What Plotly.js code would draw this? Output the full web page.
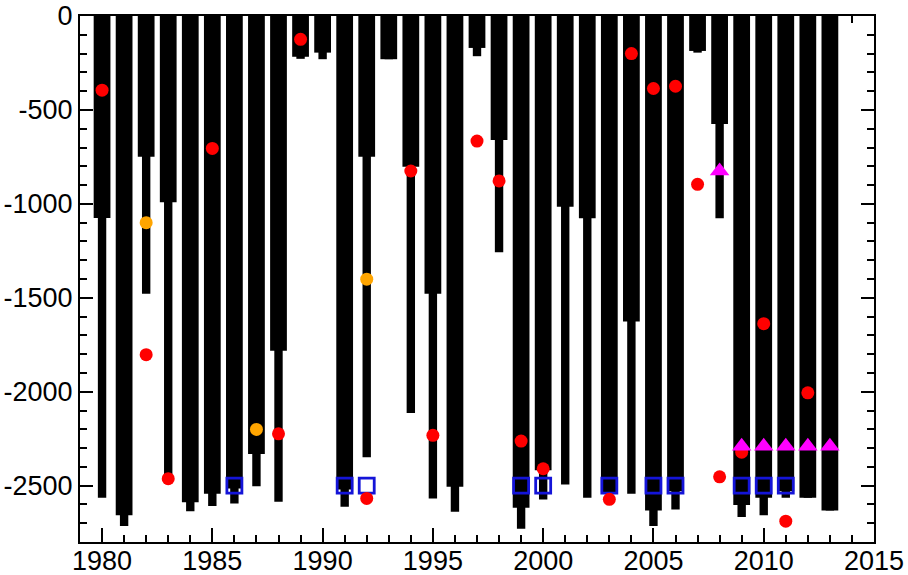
<!DOCTYPE html>
<html>
<head>
<meta charset="utf-8">
<script src="https://cdn.plot.ly/plotly-3.0.1.min.js"></script>
<style>html,body{margin:0;padding:0;background:#fff;}#chart{width:908px;height:575px;}</style>
</head>
<body>
<div id="chart"></div>
<script>
// ---- data ----
const years = [1980,1981,1982,1983,1984,1985,1986,1987,1988,1989,1990,1991,1992,1993,1994,1995,1996,1997,1998,1999,2000,2001,2002,2003,2004,2005,2006,2007,2008,2009,2010,2011,2012,2013];
const wideDepth = [-1075,-2658,-749,-992,-2588,-2543,-2515,-2331,-1782,-217,-195,-2520,-749,-230,-802,-1479,-2506,-170,-660,-2618,-2418,-1015,-1076,-2535,-1626,-2632,-2530,-186,-575,-2603,-2564,-2530,-2564,-2632];
const narrowDepth = [-2564,-2715,-1479,-2460,-2636,-2609,-2595,-2503,-2586,-228,-230,-2612,-2349,-230,-2113,-2568,-2639,-214,-1257,-2729,-2574,-2494,-2564,-2540,-2543,-2715,-2627,-195,-1077,-2667,-2657,-2564,-2564,-2632];

const redYears = [1980,1982,1983,1985,1988,1989,1992,1994,1995,1997,1998,1999,2000,2003,2004,2005,2006,2007,2008,2009,2010,2011,2012];
const redValues = [-395,-1803,-2463,-705,-2224,-124,-2568,-825,-2232,-666,-878,-2263,-2410,-2573,-200,-386,-374,-896,-2453,-2322,-1638,-2689,-2006];

const orangeYears = [1982,1987,1992];
const orangeValues = [-1100,-2201,-1401];

const squareYears = [1986,1991,1992,1999,2000,2003,2005,2006,2009,2010,2011];
const squareValues = [-2500,-2500,-2500,-2500,-2500,-2500,-2500,-2500,-2500,-2500,-2500];

const triYears = [2008,2009,2010,2011,2012,2013];
const triValues = [-825,-2290,-2290,-2290,-2290,-2290];

const xTickVals = [1980,1985,1990,1995,2000,2005,2010,2015];
const xTickText = ['1980','1985','1990','1995','2000','2005','2010','2015'];
const yTickVals = [0,-500,-1000,-1500,-2000,-2500];
const yTickText = ['0','-500','-1000','-1500','-2000','-2500'];

// ---- traces ----
const traces = [
  {type:'bar', x:years, y:narrowDepth, width:0.38, marker:{color:'#000', line:{width:0}}, hoverinfo:'x+y'},
  {type:'bar', x:years, y:wideDepth, width:0.76, marker:{color:'#000', line:{width:0}}, hoverinfo:'x+y'},
  {type:'scatter', mode:'markers', x:squareYears, y:squareValues,
   marker:{symbol:'square-open', size:15, color:'#1414d8', line:{width:2.8, color:'#1414d8'}}},
  {type:'scatter', mode:'markers', x:orangeYears, y:orangeValues,
   marker:{symbol:'circle', size:13, color:'#ffa500'}},
  {type:'scatter', mode:'markers', x:redYears, y:redValues,
   marker:{symbol:'circle', size:13, color:'#ff0000'}},
  {type:'scatter', mode:'markers', x:triYears, y:triValues,
   marker:{symbol:'triangle-up', size:17, color:'#ff00ff'}}
];

const fontFam = 'Liberation Sans, Arial, Helvetica, sans-serif';
const layout = {
  width:908, height:575,
  margin:{l:80, r:34, t:16, b:33, pad:0},
  paper_bgcolor:'#fff', plot_bgcolor:'#fff',
  showlegend:false,
  barmode:'overlay',
  font:{family:fontFam, color:'#000'},
  xaxis:{
    range:[1979,2015], tickmode:'array', tickvals:xTickVals, ticktext:xTickText,
    ticks:'inside', ticklen:14, tickwidth:2, tickcolor:'#000',
    minor:{dtick:1, tick0:1979, ticks:'inside', ticklen:7, tickwidth:2, tickcolor:'#000', showgrid:false},
    showline:true, linewidth:2, linecolor:'#000', mirror:'ticks',
    showgrid:false, zeroline:false, ticklabelstandoff:-6,
    tickfont:{size:27, family:fontFam, color:'#000'}
  },
  yaxis:{
    range:[-2800,0], tickmode:'array', tickvals:yTickVals, ticktext:yTickText,
    ticks:'inside', ticklen:13, tickwidth:2, tickcolor:'#000',
    minor:{dtick:100, tick0:0, ticks:'inside', ticklen:7, tickwidth:2, tickcolor:'#000', showgrid:false},
    showline:true, linewidth:2, linecolor:'#000', mirror:'ticks',
    showgrid:false, zeroline:false, ticklabelstandoff:0,
    tickfont:{size:27, family:fontFam, color:'#000'}
  }
};

Plotly.newPlot('chart', traces, layout, {displayModeBar:false, staticPlot:true});
</script>
</body>
</html>
